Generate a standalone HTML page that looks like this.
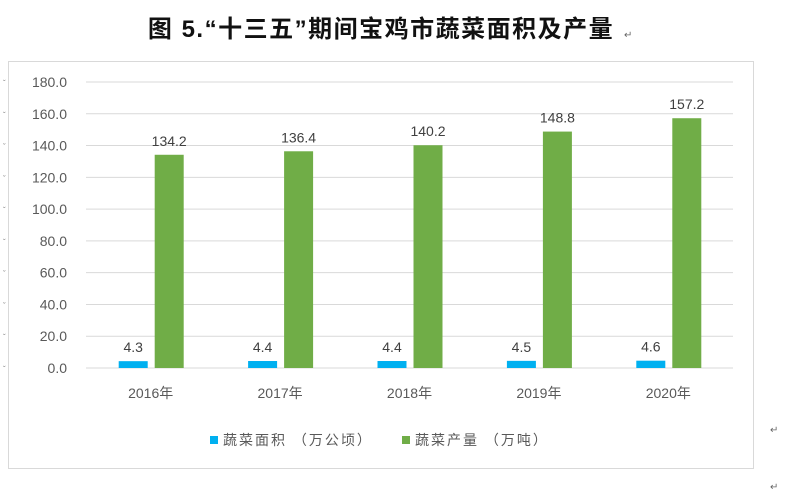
<!DOCTYPE html>
<html><head><meta charset="utf-8"><style>
body{margin:0;background:#fff;width:794px;height:495px;overflow:hidden;font-family:"Liberation Sans","Noto Sans CJK SC",sans-serif;}
</style></head><body>
<svg width="794" height="495" xmlns="http://www.w3.org/2000/svg">
<text x="381" y="37" text-anchor="middle" font-size="24" font-weight="bold" letter-spacing="1.5" fill="#111" font-family="'Liberation Sans','Noto Sans CJK SC',sans-serif">图 5.“十三五”期间宝鸡市蔬菜面积及产量</text>
<text x="624" y="38" font-size="10" fill="#666">↵</text>
<rect x="8.5" y="61.5" width="745" height="407" fill="none" stroke="#d9d9d9"/>
<g id="grid"></g><g id="bars"></g><g id="labels"></g>
<g>
<rect x="210" y="436" width="8" height="8" fill="#00b0f0"/>
<text x="223" y="445" font-size="14" letter-spacing="2" fill="#595959">蔬菜面积 （万公顷）</text>
<rect x="402" y="436" width="8" height="8" fill="#70ad47"/>
<text x="415" y="445" font-size="14" letter-spacing="2" fill="#595959">蔬菜产量 （万吨）</text>
</g>
<text x="770" y="433" font-size="10" fill="#666">↵</text>
<text x="770" y="490" font-size="10" fill="#666">↵</text>
</svg>
<script>
const categories=["2016年","2017年","2018年","2019年","2020年"];
const areaValues=[4.3,4.4,4.4,4.5,4.6];
const outputValues=[134.2,136.4,140.2,148.8,157.2];
const yTicks=[0,20,40,60,80,100,120,140,160,180];
const NS="http://www.w3.org/2000/svg";
const x0=86,x1=733,y0=368,yTop=82,yMax=180;
const yS=v=>y0-v*(y0-yTop)/yMax;
const bw=(x1-x0)/categories.length;
const xC=i=>x0+bw*(i+0.5);
function mk(tag,attrs,parent,txt){const e=document.createElementNS(NS,tag);for(const k in attrs)e.setAttribute(k,attrs[k]);if(txt!==undefined)e.textContent=txt;document.getElementById(parent).appendChild(e);return e;}
yTicks.forEach(t=>{
 const l=mk('line',{x1:x0,x2:x1,y1:yS(t),y2:yS(t),stroke:'#d9d9d9','stroke-width':1},'grid');
 
 
 const tx=mk('text',{x:67,y:yS(t)+5,'text-anchor':'end','font-size':14,fill:'#595959'},'grid',t.toFixed(1));
 
 
 mk('text',{x:3,y:yS(t)+4,'font-size':8,fill:'#888'},'grid','ˇ');
});
categories.forEach((c,i)=>{
 const cx=xC(i);
 const a=mk('rect',{x:cx-32,y:yS(areaValues[i]),width:29,height:y0-yS(areaValues[i]),fill:'#00b0f0'},'bars');
 
 
 const o=mk('rect',{x:cx+4,y:yS(outputValues[i]),width:29,height:y0-yS(outputValues[i]),fill:'#70ad47'},'bars');
 
 
 const la=mk('text',{x:cx-17.5,y:yS(areaValues[i])-9,'text-anchor':'middle','font-size':14,fill:'#404040'},'labels',areaValues[i].toFixed(1));
 
 
 const lo=mk('text',{x:cx+18.5,y:yS(outputValues[i])-9,'text-anchor':'middle','font-size':14,fill:'#404040'},'labels',outputValues[i].toFixed(1));
 
 
 const xl=mk('text',{x:cx,y:398,'text-anchor':'middle','font-size':14,fill:'#595959'},'labels',c);
 
 
});
</script>
</body></html>
